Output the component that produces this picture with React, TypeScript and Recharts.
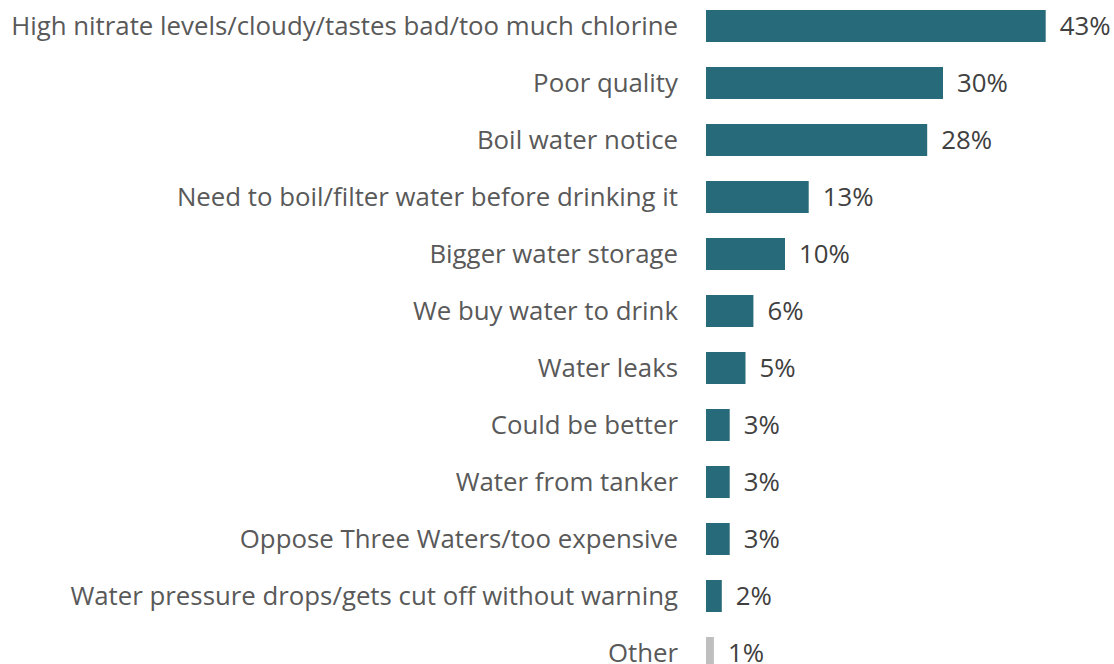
import { BarChart, Bar, XAxis, YAxis, LabelList, Cell } from 'recharts';

const categories = [
  "High nitrate levels/cloudy/tastes bad/too much chlorine",
  "Poor quality",
  "Boil water notice",
  "Need to boil/filter water before drinking it",
  "Bigger water storage",
  "We buy water to drink",
  "Water leaks",
  "Could be better",
  "Water from tanker",
  "Oppose Three Waters/too expensive",
  "Water pressure drops/gets cut off without warning",
  "Other",
];
const values = [43, 30, 28, 13, 10, 6, 5, 3, 3, 3, 2, 1];

const data = categories.map((name, i) => ({ name, value: values[i] }));

const FONT = "Open Sans, sans-serif";

const App = () => {
  return (
    <div style={{ position: 'absolute', top: -3, left: 0 }}>
      <BarChart
        width={1114}
        height={684}
        layout="vertical"
        data={data}
        margin={{ top: 0, right: 13, bottom: 0, left: 0 }}
      >
        <XAxis type="number" domain={[0, 50]} hide />
        <YAxis
          type="category"
          dataKey="name"
          width={706}
          axisLine={false}
          tickLine={false}
          tickSize={0}
          tickMargin={28}
          interval={0}
          tick={{ fill: '#595959', fontSize: 25.8, fontFamily: FONT }}
        />
        <Bar dataKey="value" barSize={32} isAnimationActive={false}>
          {data.map((d, i) => (
            <Cell key={i} fill={d.name === 'Other' ? '#BFBFBF' : '#276A79'} />
          ))}
          <LabelList
            dataKey="value"
            position="right"
            offset={14}
            formatter={(v: any) => `${v}%`}
            style={{ fill: '#404040', fontSize: 25.8, fontFamily: FONT }}
          />
        </Bar>
      </BarChart>
    </div>
  );
};

export default App;
